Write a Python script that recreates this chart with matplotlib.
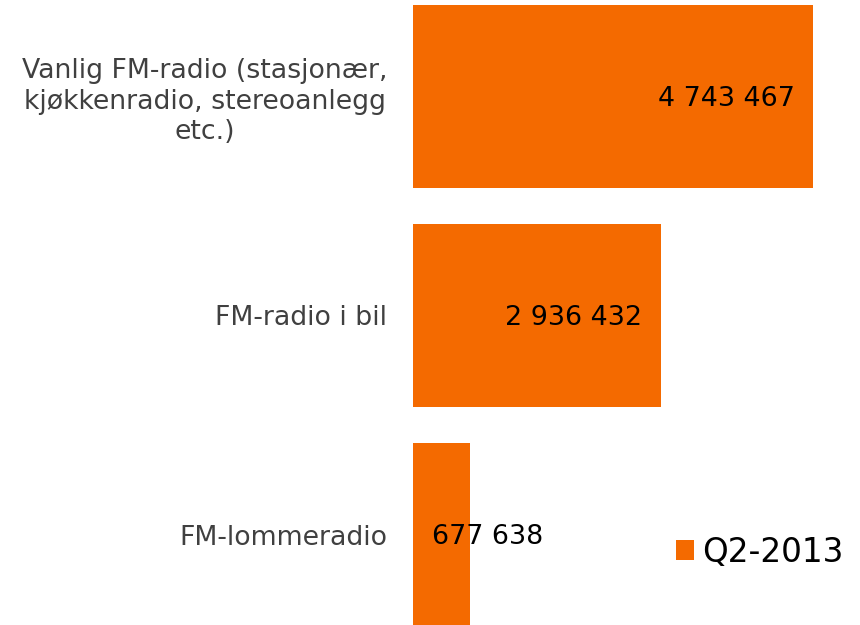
import matplotlib
matplotlib.use('Agg')
from matplotlib import pyplot as plt

# data
kategorier = ['Vanlig FM-radio (stasjonær,\nkjøkkenradio, stereoanlegg\netc.)',
              'FM-radio i bil',
              'FM-lommeradio']
verdier = [4743467, 2936432, 677638]
serie = 'Q2-2013'
oransje = '#F46A00'


def fmt(v):
    return '{:,}'.format(v).replace(',', ' ')


fig = plt.figure(figsize=(8.6, 6.25), dpi=100)
ax = fig.add_axes([413 / 860, 0, 400 / 860, 1])

pos = list(range(len(verdier)))
bars = ax.barh(pos, verdier, height=0.836, color=oransje, label=serie)

ax.set_xlim(0, max(verdier))
ax.set_ylim(2.413, -0.44)

ax.set_yticks(pos)
ax.set_yticklabels(kategorier, fontsize=19.3, color='#404040',
                   multialignment='center', linespacing=1.22)
ax.tick_params(axis='y', length=0, pad=18.5)
ax.set_xticks([])
for s in ax.spines.values():
    s.set_visible(False)

for b, v in zip(bars, verdier):
    y = b.get_y() + b.get_height() / 2
    if v > max(verdier) * 0.3:
        ax.annotate(fmt(v), (v, y), xytext=(-13, -2), textcoords='offset points',
                    ha='right', va='center', fontsize=19.4, color='black')
    else:
        ax.annotate(fmt(v), (0, y), xytext=(14, -2), textcoords='offset points',
                    ha='left', va='center', fontsize=19.4, color='black')

fig.legend(loc='center left', bbox_to_anchor=(676 / 860, 1 - 552 / 625),
           frameon=False, fontsize=23.5, handlelength=0.55, handleheight=0.55,
           handletextpad=0.25, borderaxespad=0, borderpad=0)

fig.savefig('out.png', dpi=100)
